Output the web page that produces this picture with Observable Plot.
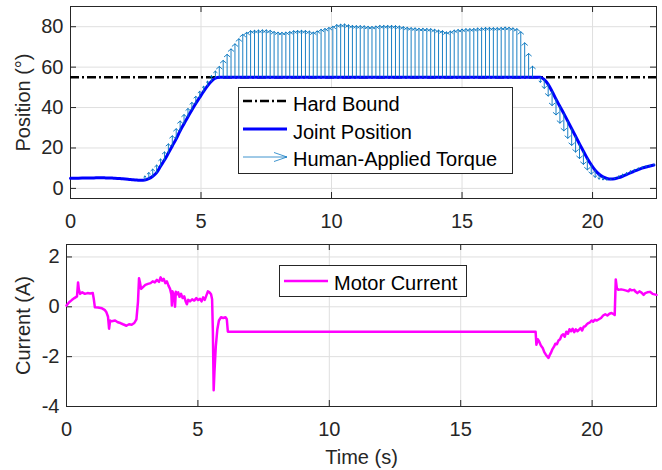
<!DOCTYPE html>
<html>
<head>
<meta charset="utf-8">
<script src="https://cdn.jsdelivr.net/npm/d3@7"></script>
<script src="https://cdn.jsdelivr.net/npm/@observablehq/plot@0.6"></script>
<style>
  body { margin: 0; background: #fff; }
  #chart { position: relative; width: 662px; height: 470px; font-family: "Liberation Sans", Arial, Helvetica, sans-serif; }
  #chart .panel { position: absolute; left: 0; }
  #chart .legend { position: absolute; overflow: visible; }
</style>
</head>
<body>
<div id="chart"></div>
<script>
// Sample clock of the position / torque log (seconds between samples)
const sampleStep = 0.15;

// Joint position (deg), one value per sample
const jointPosition = [
  5.0, 5.0, 5.05, 5.1, 5.15, 5.2, 5.2, 5.25, 5.25, 5.2,
  5.15, 5.05, 4.95, 4.8, 4.65, 4.45, 4.25, 4.1, 4.0, 4.1,
  4.8, 6.0, 7.8, 11.0, 14.0, 17.5, 21.0, 24.5, 28.5, 32.0,
  35.5, 38.8, 42.0, 45.0, 48.0, 50.7, 53.0, 54.6, 55, 55,
  55, 55, 55, 55, 55, 55, 55, 55, 55, 55,
  55, 55, 55, 55, 55, 55, 55, 55, 55, 55,
  55, 55, 55, 55, 55, 55, 55, 55, 55, 55,
  55, 55, 55, 55, 55, 55, 55, 55, 55, 55,
  55, 55, 55, 55, 55, 55, 55, 55, 55, 55,
  55, 55, 55, 55, 55, 55, 55, 55, 55, 55,
  55, 55, 55, 55, 55, 55, 55, 55, 55, 55,
  55, 55, 55, 55, 55, 55, 55, 55, 55, 55,
  55, 53.8, 51.5, 48.0, 44.2, 40.5, 37.0, 33.3, 29.5, 25.8,
  22.0, 18.4, 14.8, 11.7, 9.0, 7.0, 5.7, 4.9, 4.6, 4.8,
  5.3, 6.0, 6.8, 7.7, 8.5, 9.3, 10.0, 10.6, 11.1, 11.6
];

// Human-applied torque, drawn as a vertical quiver component (deg), one per sample
const torqueArrow = [
  0, 0, 0, 0, 0, 0, 0, 0, 0, 0,
  0, 0, 0, 0, 0, 0, 0, 0, 0, 2.0,
  3.0, 3.5, 3.7, 3.5, 4.0, 4.5, 5.0, 5.0, 4.8, 4.5,
  4.0, 3.7, 3.5, 3.0, 2.5, 2.3, 2.8, 3.4, 5.3, 8.3,
  11.3, 14.0, 16.5, 19.0, 21.2, 22.2, 23.0, 23.2, 23.3, 23.4,
  23.4, 23.2, 22.6, 22.3, 22.2, 22.3, 22.6, 23.0, 23.1, 23.2,
  23.1, 22.8, 22.3, 22.9, 23.7, 24.1, 24.6, 25.2, 26.0, 26.2,
  26.3, 25.9, 25.6, 25.5, 25.5, 25.4, 25.2, 25.1, 25.3, 25.6,
  25.6, 25.6, 25.6, 25.5, 25.3, 25.0, 24.7, 24.5, 24.4, 24.2,
  24.2, 24.1, 24.0, 23.7, 23.3, 23.0, 22.4, 22.8, 23.3, 23.6,
  23.8, 24.0, 24.0, 24.1, 24.3, 24.4, 24.6, 24.6, 24.5, 24.5,
  24.6, 24.8, 24.7, 24.4, 24.0, 22.5, 17.0, 11.7, 5.4, 0,
  -2.5, -4.3, -5.8, -7.0, -7.8, -8.2, -8.5, -8.5, -8.2, -7.8,
  -7.2, -6.5, -5.6, -4.6, -3.5, -2.4, -1.5, -0.8, -0.3, 0.4,
  0.8, 1.0, 1.0, 1.0, 0.9, 0.8, 0.7, 0.6, 0.4, 0.3
];

// Position limit (deg)
const hardBound = 55;

// Motor current log: time (s) and current (A)
const currentTime = [
  0.00, 0.10, 0.20, 0.30, 0.40, 0.44, 0.47, 0.52, 0.60, 0.70,
  0.80, 0.90, 1.00, 1.04, 1.08, 1.20, 1.35, 1.45, 1.52, 1.58,
  1.62, 1.66, 1.72, 1.85, 1.95, 2.05, 2.15, 2.28, 2.38, 2.48,
  2.58, 2.66, 2.72, 2.76, 2.80, 2.84, 2.92, 3.00, 3.10, 3.20,
  3.28, 3.36, 3.44, 3.52, 3.58, 3.64, 3.70, 3.76, 3.82, 3.88,
  3.94, 3.99, 4.01, 4.03, 4.06, 4.09, 4.13, 4.16, 4.20, 4.25,
  4.30, 4.36, 4.42, 4.48, 4.54, 4.58, 4.63, 4.70, 4.78, 4.86,
  4.94, 5.00, 5.08, 5.14, 5.20, 5.26, 5.32, 5.38, 5.44, 5.50,
  5.54, 5.57, 5.60, 5.63, 5.68, 5.74, 5.80, 5.88, 5.96, 6.05,
  6.10, 6.14, 6.30, 17.85, 17.88, 17.93, 17.98, 18.05, 18.12, 18.18,
  18.24, 18.30, 18.34, 18.38, 18.43, 18.48, 18.55, 18.60, 18.66, 18.72,
  18.78, 18.84, 18.90, 18.96, 19.02, 19.08, 19.14, 19.20, 19.26, 19.32,
  19.38, 19.44, 19.50, 19.56, 19.62, 19.68, 19.74, 19.80, 19.86, 19.92,
  19.98, 20.04, 20.10, 20.18, 20.26, 20.34, 20.42, 20.50, 20.58, 20.66,
  20.74, 20.82, 20.86, 20.90, 20.94, 21.00, 21.10, 21.20, 21.30, 21.38,
  21.44, 21.50, 21.60, 21.66, 21.72, 21.80, 21.88, 21.96, 22.02, 22.10,
  22.20, 22.30, 22.45
];
const currentValue = [
  0.05, 0.18, 0.27, 0.35, 0.42, 0.98, 0.70, 0.52, 0.58, 0.52,
  0.55, 0.53, 0.55, 0.30, -0.02, -0.03, -0.06, -0.12, -0.22, -0.40,
  -0.88, -0.55, -0.58, -0.55, -0.62, -0.65, -0.70, -0.76, -0.70, -0.72,
  -0.65, -0.50, 0.20, 1.15, 0.95, 0.72, 0.80, 0.88, 0.92, 0.95,
  1.02, 0.98, 1.08, 1.00, 1.18, 1.05, 1.12, 0.95, 1.02, 0.85,
  0.72, 0.50, 0.05, 0.62, 0.55, 0.45, 0.00, 0.60, 0.50, 0.58,
  0.40, 0.52, 0.35, 0.42, 0.20, 0.10, 0.28, 0.22, 0.30, 0.25,
  0.35, 0.27, 0.32, 0.22, 0.38, 0.28, 0.45, 0.62, 0.58, 0.50,
  0.30, -1.00, -3.35, -2.60, -1.60, -0.90, -0.55, -0.42, -0.45, -0.42,
  -0.50, -1.00, -1.00, -1.00, -1.52, -1.30, -1.38, -1.55, -1.65, -1.82,
  -1.92, -2.00, -2.05, -1.95, -1.85, -1.72, -1.60, -1.48, -1.50, -1.35,
  -1.30, -1.15, -1.10, -1.20, -1.00, -1.08, -0.90, -0.98, -0.88, -1.02,
  -0.90, -0.98, -0.92, -0.85, -0.95, -0.80, -0.78, -0.70, -0.65, -0.62,
  -0.55, -0.60, -0.52, -0.55, -0.50, -0.45, -0.35, -0.30, -0.35, -0.28,
  -0.25, -0.30, -0.33, 1.10, 0.75, 0.68, 0.70, 0.68, 0.65, 0.62,
  0.70, 0.66, 0.68, 0.60, 0.55, 0.62, 0.57, 0.48, 0.55, 0.58,
  0.60, 0.52, 0.48
];

// Axis ticks
const timeTicks = [0, 5, 10, 15, 20];
const positionTicks = [0, 20, 40, 60, 80];
const currentTicks = [-4, -2, 0, 2];

// Axis titles and legend entries
const positionLabel = "Position (°)";
const currentLabel = "Current (A)";
const timeLabel = "Time (s)";
const legendTop = ["Hard Bound", "Joint Position", "Human-Applied Torque"];
const legendBottom = ["Motor Current"];

// ---------------------------------------------------------------------------
const font = '"Liberation Sans", Arial, Helvetica, sans-serif';
const ink = "#262626";
const gridColor = "#dfdfdf";
const timeDomain = [0, 22.45];
const boundDash = "9,3,2,3";

const samples = jointPosition.map((pos, i) => ({
  t: +(i * sampleStep).toFixed(2),
  pos,
  tip: pos + torqueArrow[i]
}));
const arrows = samples.filter((d) => d.tip !== d.pos);
const current = currentTime.map((t, i) => ({t, amps: currentValue[i]}));

// Boxed axes with inward ticks on all four sides
function boxedAxes({xTicks, yTicks, innerW, innerH, yPad}) {
  const tick = 6;
  const fmt = (d) => String(d);
  return [
    Plot.gridX(xTicks, {stroke: gridColor, strokeOpacity: 1}),
    Plot.gridY(yTicks, {stroke: gridColor, strokeOpacity: 1}),
    Plot.frame({stroke: ink, strokeWidth: 1}),
    Plot.tickX(xTicks, {x: (d) => d, insetTop: innerH - tick, stroke: ink}),
    Plot.tickX(xTicks, {x: (d) => d, insetBottom: innerH - tick, stroke: ink}),
    Plot.tickY(yTicks, {y: (d) => d, insetRight: innerW - tick, stroke: ink}),
    Plot.tickY(yTicks, {y: (d) => d, insetLeft: innerW - tick, stroke: ink}),
    Plot.axisX(xTicks, {tickSize: 0, tickPadding: 15, tickFormat: fmt, fontSize: 20, color: ink, label: null}),
    Plot.axisY(yTicks, {tickSize: 0, tickPadding: yPad, tickFormat: fmt, fontSize: 20, color: ink, label: null})
  ];
}

// Rotated y-axis title centred on the left side of the frame
function yTitle(label, dx) {
  return Plot.text([label], {
    text: (d) => d, frameAnchor: "left", textAnchor: "middle", lineAnchor: "middle",
    dx, rotate: -90, fontSize: 20, fill: ink
  });
}

const H = 235;

// Upper panel: joint position, hard bound and human torque quiver
const topM = {left: 70, right: 6, top: 6, bottom: 37};
const topPlot = Plot.plot({
  width: 662,
  height: H,
  marginLeft: topM.left,
  marginRight: topM.right,
  marginTop: topM.top,
  marginBottom: topM.bottom,
  style: {fontFamily: font, background: "white", overflow: "visible"},
  x: {domain: timeDomain},
  y: {domain: [-5, 90]},
  marks: [
    ...boxedAxes({
      xTicks: timeTicks, yTicks: positionTicks,
      innerW: 662 - topM.left - topM.right, innerH: H - topM.top - topM.bottom, yPad: 7
    }),
    Plot.ruleY([hardBound], {stroke: "black", strokeWidth: 2.5, strokeDasharray: boundDash}),
    Plot.line(samples, {x: "t", y: "pos", stroke: "#0000ff", strokeWidth: 3, curve: "monotone-x"}),
    Plot.arrow(arrows, {
      x1: "t", y1: "pos", x2: "t", y2: "tip",
      stroke: "#0072BD", strokeWidth: 0.9, headLength: 6, headAngle: 100
    }),
    yTitle(positionLabel, -46.5)
  ]
});

// Lower panel: motor current
const botM = {left: 66, right: 6, top: 9, bottom: 64};
const bottomPlot = Plot.plot({
  width: 662,
  height: H,
  marginLeft: botM.left,
  marginRight: botM.right,
  marginTop: botM.top,
  marginBottom: botM.bottom,
  style: {fontFamily: font, background: "white", overflow: "visible"},
  x: {domain: timeDomain},
  y: {domain: [-4, 2.5]},
  marks: [
    ...boxedAxes({
      xTicks: timeTicks, yTicks: currentTicks,
      innerW: 662 - botM.left - botM.right, innerH: H - botM.top - botM.bottom, yPad: 7
    }),
    Plot.line(current, {x: "t", y: "amps", stroke: "#ff00ff", strokeWidth: 2.5, strokeLinejoin: "round"}),
    yTitle(currentLabel, -42.5),
    Plot.text([timeLabel], {text: (d) => d, frameAnchor: "bottom", lineAnchor: "middle", dy: 51, fontSize: 20, fill: ink})
  ]
});

const chart = document.getElementById("chart");
const topWrap = document.createElement("div");
topWrap.className = "panel";
topWrap.style.top = "0px";
topWrap.appendChild(topPlot);
const botWrap = document.createElement("div");
botWrap.className = "panel";
botWrap.style.top = H + "px";
botWrap.appendChild(bottomPlot);
chart.appendChild(topWrap);
chart.appendChild(botWrap);

// Legends
const svgNS = "http://www.w3.org/2000/svg";
function el(name, attrs, parent) {
  const e = document.createElementNS(svgNS, name);
  for (const k in attrs) e.setAttribute(k, attrs[k]);
  if (parent) parent.appendChild(e);
  return e;
}
function legendBox(left, top, w, h) {
  const s = el("svg", {width: w + 1, height: h + 1, class: "legend"});
  s.style.left = left + "px";
  s.style.top = top + "px";
  el("rect", {x: 0.5, y: 0.5, width: w, height: h, fill: "white", stroke: ink, "stroke-width": 1}, s);
  chart.appendChild(s);
  return s;
}
function legendText(s, str, x, y) {
  const t = el("text", {x, y, "font-family": font, "font-size": 20, fill: "black"}, s);
  t.textContent = str;
}

const lt = legendBox(238, 87, 274, 86);
el("line", {x1: 5, x2: 49, y1: 14, y2: 14, stroke: "black", "stroke-width": 2.5, "stroke-dasharray": boundDash}, lt);
legendText(lt, legendTop[0], 55, 24);
el("line", {x1: 5, x2: 49, y1: 42, y2: 42, stroke: "#0000ff", "stroke-width": 3}, lt);
legendText(lt, legendTop[1], 55, 51.5);
el("path", {d: "M5,70H49M36,65.5L49,70L36,74.5", fill: "none", stroke: "#0072BD", "stroke-width": 1, opacity: 0.75}, lt);
legendText(lt, legendTop[2], 55, 79);

const lb = legendBox(279, 265, 187, 31);
el("line", {x1: 5, x2: 49, y1: 16, y2: 16, stroke: "#ff00ff", "stroke-width": 2.5}, lb);
legendText(lb, legendBottom[0], 55, 24.5);
</script>
</body>
</html>
